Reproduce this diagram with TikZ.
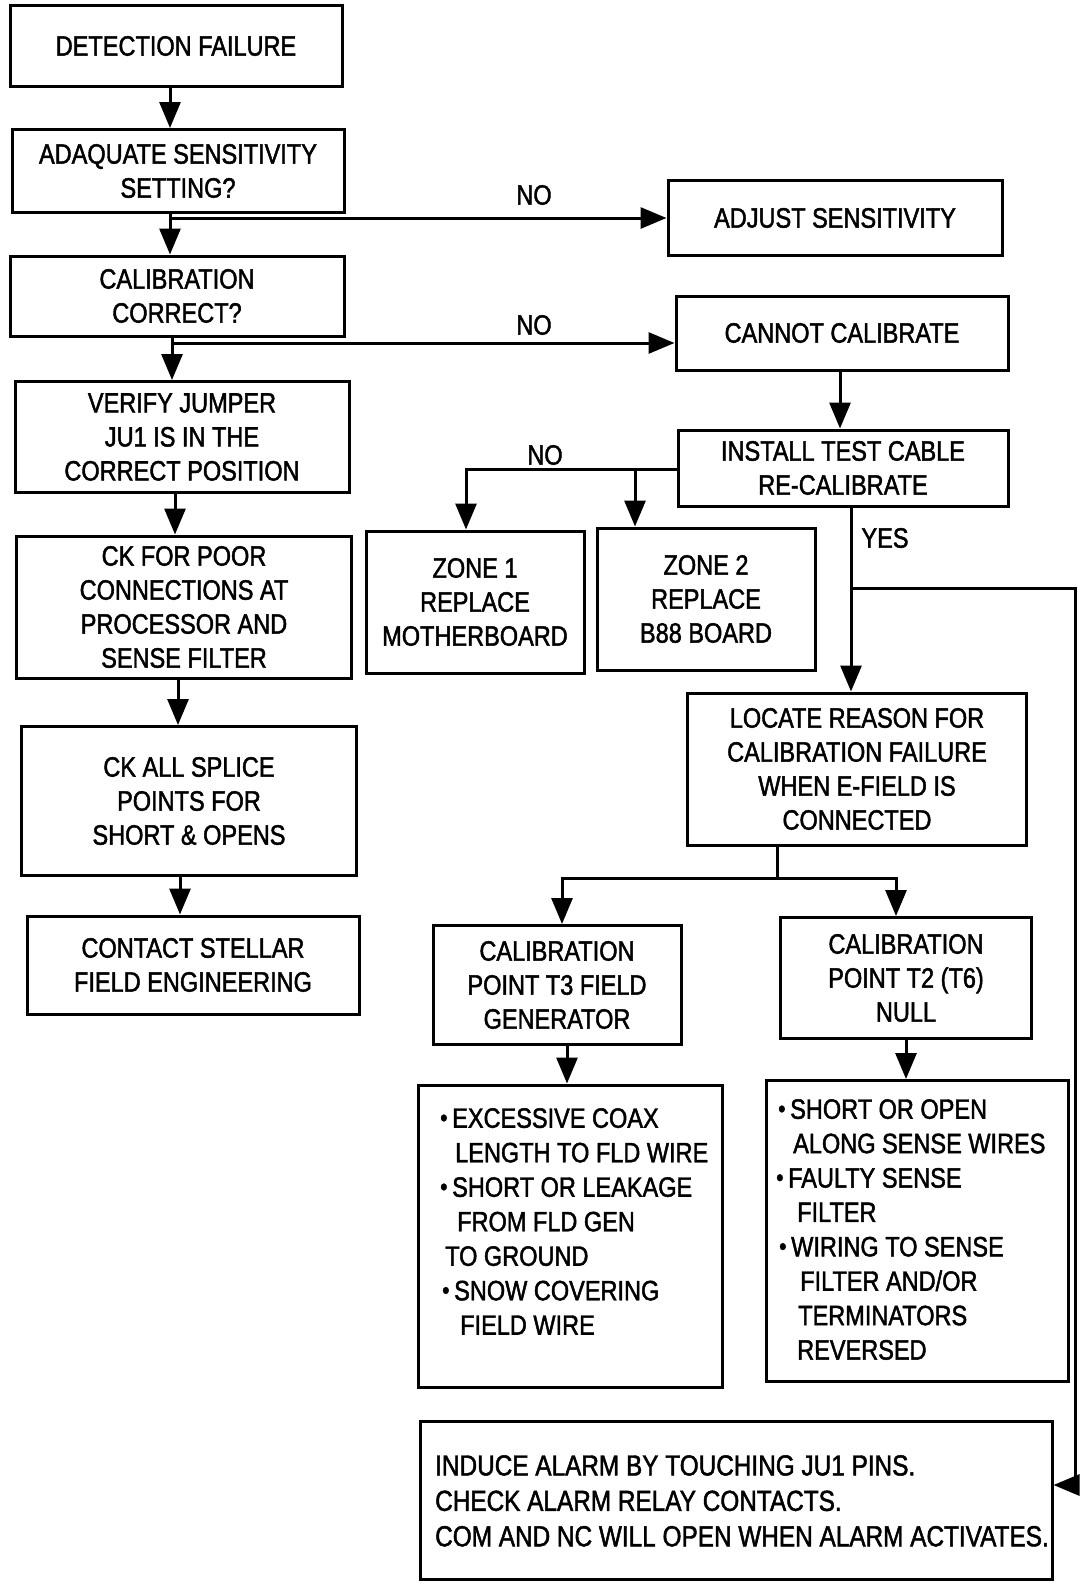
\documentclass[tikz,border=0pt]{standalone}
\usepackage{fontspec}
\setmainfont{Liberation Sans}[FakeStretch=0.84,FakeBold=1.6]
\usetikzlibrary{arrows.meta}
\newcommand\bul{\makebox[12pt][l]{\raisebox{1.5pt}{\fontsize{25}{25}\selectfont •}}}
\begin{document}
\begin{tikzpicture}[x=1pt,y=-1pt,
  box/.style={draw, line width=3pt, inner sep=0pt, align=center, font=\fontsize{28}{34}\selectfont},
  arr/.style={line width=3pt, -{Triangle[length=26pt,width=21pt]}},
  ln/.style={line width=3pt},
  lbl/.style={font=\fontsize{28}{34}\selectfont, inner sep=0pt},
  txt/.style={inner sep=0pt, align=left, anchor=north west}]
\useasboundingbox (0,0) rectangle (1079,1587);
% boxes
\node[box, minimum width=332pt, minimum height=81pt] (df) at (176,46) {DETECTION FAILURE};
\node[box, minimum width=332pt, minimum height=83pt] (ass) at (178,171) {ADAQUATE SENSITIVITY\\SETTING?};
\node[box, minimum width=334pt, minimum height=75pt] (adj) at (835,218) {ADJUST SENSITIVITY};
\node[box, minimum width=334pt, minimum height=80pt] (cc) at (177,296) {CALIBRATION\\CORRECT?};
\node[box, minimum width=332pt, minimum height=74pt] (cannot) at (842,333) {CANNOT CALIBRATE};
\node[box, minimum width=334pt, minimum height=111pt] (ver) at (182,437) {VERIFY JUMPER\\JU1 IS IN THE\\CORRECT POSITION};
\node[box, minimum width=330pt, minimum height=76pt] (inst) at (843,468) {INSTALL TEST CABLE\\RE-CALIBRATE};
\node[box, minimum width=335pt, minimum height=142pt] (ckp) at (184,607) {CK FOR POOR\\CONNECTIONS AT\\PROCESSOR AND\\SENSE FILTER};
\node[box, minimum width=218pt, minimum height=142pt] (z1) at (475,602) {ZONE 1\\REPLACE\\MOTHERBOARD};
\node[box, minimum width=218pt, minimum height=142pt] (z2) at (706,599) {ZONE 2\\REPLACE\\B88 BOARD};
\node[box, minimum width=339pt, minimum height=152pt] (loc) at (857,769) {LOCATE REASON FOR\\CALIBRATION FAILURE\\WHEN E-FIELD IS\\CONNECTED};
\node[box, minimum width=335pt, minimum height=149pt] (cka) at (189,801) {CK ALL SPLICE\\POINTS FOR\\SHORT \& OPENS};
\node[box, minimum width=332pt, minimum height=98pt] (con) at (193,965) {CONTACT STELLAR\\FIELD ENGINEERING};
\node[box, minimum width=248pt, minimum height=119pt] (t3) at (557,985) {CALIBRATION\\POINT T3 FIELD\\GENERATOR};
\node[box, minimum width=251pt, minimum height=121pt] (t2) at (906,978) {CALIBRATION\\POINT T2 (T6)\\NULL};
\node[box, minimum width=304pt, minimum height=302pt] (l1) at (570,1236) {};
\node[box, minimum width=302pt, minimum height=301pt] (l2) at (917,1231) {};
\node[box, minimum width=632pt, minimum height=158pt] (ind) at (736,1500) {};
% list texts
\node[txt, font=\fontsize{28}{34.5}\selectfont] (l1t) at (440,1108) {%
\bul EXCESSIVE COAX\\
\hspace*{15pt}LENGTH TO FLD WIRE\\
\bul SHORT OR LEAKAGE\\
\hspace*{17pt}FROM FLD GEN\\
\hspace*{5pt}TO GROUND\\
\hspace*{2pt}\bul SNOW COVERING\\
\hspace*{20pt}FIELD WIRE};
\node[txt, font=\fontsize{28}{34.4}\selectfont] (l2t) at (776,1099) {%
\hspace*{2pt}\bul SHORT OR OPEN\\
\hspace*{17pt}ALONG SENSE WIRES\\
\bul FAULTY SENSE\\
\hspace*{21pt}FILTER\\
\hspace*{3pt}\bul WIRING TO SENSE\\
\hspace*{24pt}FILTER AND/OR\\
\hspace*{22pt}TERMINATORS\\
\hspace*{21pt}REVERSED};
\node[txt, font=\fontsize{29}{35.4}\selectfont] (indt) at (435,1455) {%
INDUCE ALARM BY TOUCHING JU1 PINS.\\
CHECK ALARM RELAY CONTACTS.\\
COM AND NC WILL OPEN WHEN ALARM ACTIVATES.};
% helper coordinates
\coordinate (xa) at (170,0);
\coordinate (ya) at (0,218);
\coordinate (xb) at (172,0);
\coordinate (yb) at (0,343);
\coordinate (xc) at (840,0);
\coordinate (xz1) at (466,0);
\coordinate (xz2) at (635,0);
\coordinate (yz) at (0,469);
\coordinate (xd) at (851,0);
\coordinate (ye) at (0,588);
\coordinate (xe) at (1075,0);
\coordinate (yf) at (0,1485);
\coordinate (xf) at (777,0);
\coordinate (yg) at (0,878);
\coordinate (xg) at (562,0);
\coordinate (xh) at (896,0);
\coordinate (xi) at (175,0);
\coordinate (xj) at (178,0);
\coordinate (xk) at (180,0);
\coordinate (xl) at (567,0);
\coordinate (xm) at (906,0);
% connectors
\draw[arr] (df.south -| xa) -- (ass.north -| xa);
\draw[arr] (ass.south -| xa) -- (cc.north -| xa);
\draw[arr] (xa |- ya) -- (adj.west |- ya);
\draw[arr] (cc.south -| xb) -- (ver.north -| xb);
\draw[arr] (xb |- yb) -- (cannot.west |- yb);
\draw[arr] (cannot.south -| xc) -- (inst.north -| xc);
\draw[arr] (inst.west |- yz) -| (z1.north -| xz1);
\draw[arr] (xz2 |- yz) -- (z2.north -| xz2);
\draw[arr] (inst.south -| xd) -- (loc.north -| xd);
\draw[arr] (xd |- ye) -- (xe |- ye) -- (xe |- yf) -- (ind.east |- yf);
\draw[arr] (ver.south -| xi) -- (ckp.north -| xi);
\draw[arr] (ckp.south -| xj) -- (cka.north -| xj);
\draw[arr] (cka.south -| xk) -- (con.north -| xk);
\draw[ln] (loc.south -| xf) -- (xf |- yg);
\draw[arr] (xf |- yg) -| (t3.north -| xg);
\draw[arr] (xf |- yg) -| (t2.north -| xh);
\draw[arr] (t3.south -| xl) -- (l1.north -| xl);
\draw[arr] (t2.south -| xm) -- (l2.north -| xm);
% labels
\node[lbl] (no1) at (534,195) {NO};
\node[lbl] (no2) at (534,325) {NO};
\node[lbl] (no3) at (545,455) {NO};
\node[lbl] (yes) at (885,538) {YES};
\end{tikzpicture}
\end{document}
